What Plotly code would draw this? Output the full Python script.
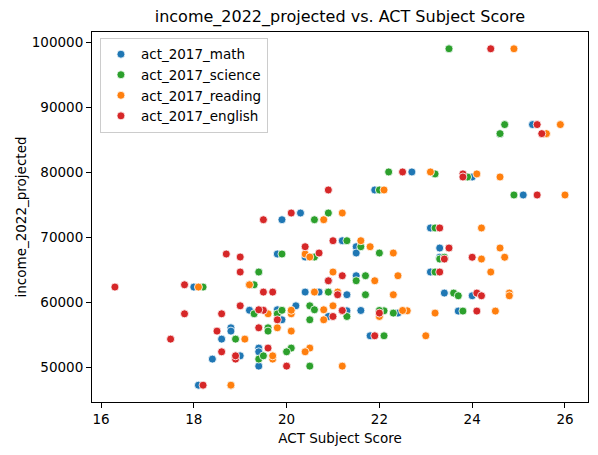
import plotly.graph_objects as go

# one entry per state (51 incl. DC)
states = ["AL", "AK", "AZ", "AR", "CA", "CO", "CT", "DE", "DC", "FL", "GA", "HI", "ID",
          "IL", "IN", "IA", "KS", "KY", "LA", "ME", "MD", "MA", "MI", "MN", "MS", "MO",
          "MT", "NE", "NV", "NH", "NJ", "NM", "NY", "NC", "ND", "OH", "OK", "OR", "PA",
          "RI", "SC", "SD", "TN", "TX", "UT", "VT", "VA", "WA", "WV", "WI", "WY"]

income_2022_projected = [51300, 67450, 58260, 51800, 80060, 73750, 85950, 61450, 98990,
                         64680, 57850, 62720, 54880, 69490, 58370, 58720, 61190, 52990,
                         56110, 61030, 71450, 87340, 58680, 68570, 47290, 57340, 59490,
                         63340, 62370, 76520, 79760, 52420, 79290, 58260, 66990, 58770,
                         55600, 64110, 66680, 66950, 54370, 67600, 58800, 61600, 72720,
                         64680, 68370, 77290, 50220, 61600, 58880]

act_2017_math = [18.4, 19.8, 19.8, 19.0, 22.7, 20.3, 24.6, 23.4, 23.5, 19.4, 20.9, 19.2, 21.8,
                 21.2, 22.4, 21.3, 21.3, 19.4, 18.8, 24.0, 23.1, 25.3, 23.7, 21.5, 18.1, 19.9,
                 20.2, 20.9, 18.0, 25.1, 23.8, 19.4, 24.0, 19.3, 20.4, 21.6, 18.8, 21.5, 23.4,
                 23.3, 18.6, 21.5, 19.2, 20.7, 19.9, 23.1, 23.3, 21.9, 19.4, 20.4, 19.8]

act_2017_science = [19.4, 19.9, 19.8, 19.5, 22.2, 20.9, 24.6, 23.6, 23.5, 19.4, 21.3, 19.3, 22.1,
                    21.3, 22.3, 22.1, 21.7, 20.1, 19.6, 23.7, 23.2, 24.7, 23.8, 21.6, 18.8, 20.5,
                    20.5, 21.5, 18.2, 24.9, 23.2, 20.0, 23.9, 19.3, 20.6, 22.0, 19.6, 21.7, 23.3,
                    23.4, 18.9, 22.0, 19.9, 20.9, 20.6, 23.2, 23.5, 22.0, 20.5, 20.9, 20.6]

act_2017_reading = [19.7, 20.4, 20.1, 19.7, 23.1, 21.2, 25.6, 24.8, 24.9, 21.0, 22.0, 19.2, 23.0,
                    21.6, 23.2, 22.6, 22.3, 20.5, 19.8, 24.8, 24.2, 25.9, 24.5, 21.8, 18.8, 20.8,
                    21.0, 21.9, 18.1, 26.0, 24.1, 20.4, 24.6, 19.6, 20.5, 22.5, 20.1, 22.4, 24.2,
                    24.7, 19.1, 22.3, 20.1, 21.1, 20.8, 24.4, 24.6, 22.1, 21.2, 20.6, 20.8]

act_2017_english = [18.9, 18.7, 18.6, 18.9, 22.5, 20.1, 25.5, 24.1, 24.4, 19.0, 21.0, 17.8, 21.9,
                    21.0, 22.0, 21.2, 21.1, 19.6, 19.4, 24.2, 23.3, 25.4, 24.1, 20.4, 18.2, 19.8,
                    19.0, 20.9, 16.3, 25.4, 23.8, 18.6, 23.8, 17.8, 19.0, 21.2, 18.5, 21.2, 23.4,
                    24.0, 17.5, 20.7, 19.5, 19.5, 19.5, 23.3, 23.5, 20.9, 20.0, 19.7, 19.4]

series = [
    ("act_2017_math", act_2017_math, "#1f77b4"),
    ("act_2017_science", act_2017_science, "#2ca02c"),
    ("act_2017_reading", act_2017_reading, "#ff7f0e"),
    ("act_2017_english", act_2017_english, "#d62728"),
]

fig = go.Figure()
for name, scores, color in series:
    fig.add_trace(go.Scatter(
        x=scores, y=income_2022_projected, mode="markers", name=name, text=states,
        marker=dict(size=8, color=color, line=dict(color="white", width=0.8)),
    ))

axis_style = dict(showline=True, linecolor="black", linewidth=1, mirror=True,
                  ticks="outside", ticklen=5, tickcolor="black", showgrid=False,
                  zeroline=False, automargin=False, tickfont=dict(size=13.5, color="black"))

fig.update_xaxes(range=[15.806, 26.496], dtick=2, title=dict(text="ACT Subject Score",
                 font=dict(size=13.5, color="black"), standoff=7), **axis_style)
fig.update_yaxes(range=[44705, 101570], dtick=10000, tickformat="d",
                 title=dict(text="income_2022_projected", font=dict(size=13.5, color="black"),
                            standoff=2), **axis_style)

# page body adds ~8px offset, margins compensate
fig.update_layout(
    width=598, height=455,
    margin=dict(l=84, r=18, t=24, b=61),
    paper_bgcolor="white", plot_bgcolor="white",
    font=dict(family="DejaVu Sans", color="black"),
    title=dict(text="income_2022_projected vs. ACT Subject Score", x=0.555, xanchor="center",
               y=0.993, yanchor="top", font=dict(size=16, color="black")),
    legend=dict(x=0.016, y=0.984, xanchor="left", yanchor="top", bgcolor="white",
                bordercolor="#cccccc", borderwidth=1, font=dict(size=13.5, color="black"),
                tracegroupgap=0),
    showlegend=True,
)

fig.write_html("out.html")
